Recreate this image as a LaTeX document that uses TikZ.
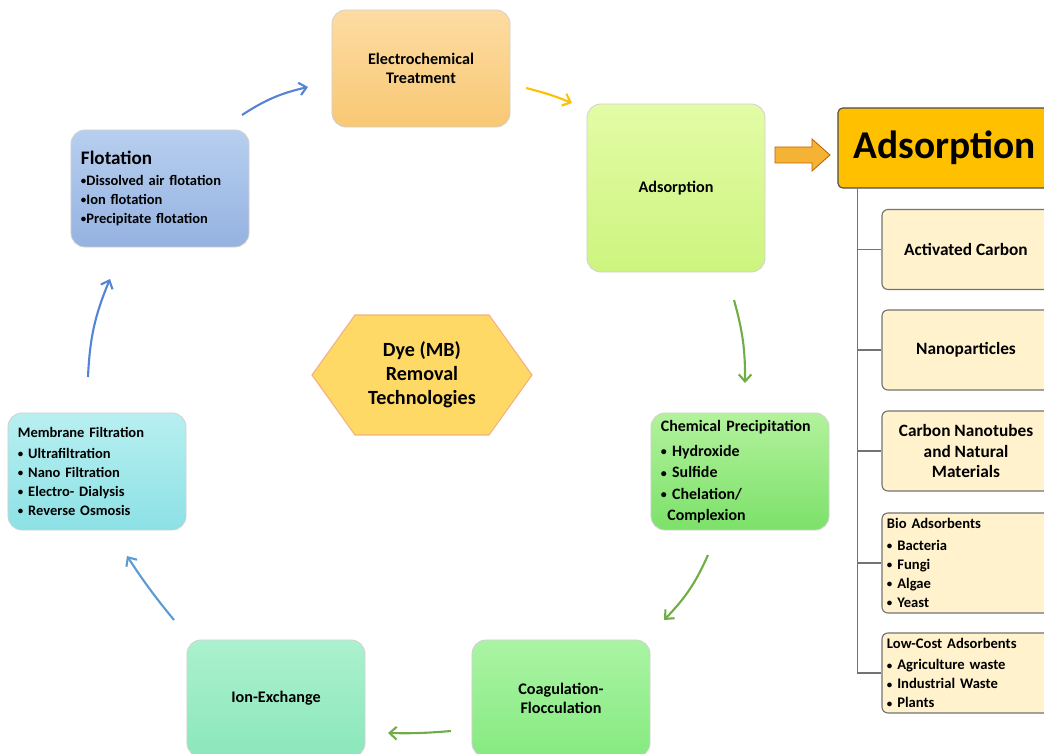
\documentclass[tikz,border=0pt]{standalone}
\usepackage{fontspec}
\setmainfont{Carlito}
\usetikzlibrary{arrows.meta}
\definecolor{elecA}{HTML}{FDDCA2}
\definecolor{elecB}{HTML}{F8C874}
\definecolor{adsA}{HTML}{E3FCA6}
\definecolor{adsB}{HTML}{CDF47F}
\definecolor{flotA}{HTML}{B7CFEF}
\definecolor{flotB}{HTML}{95B2E1}
\definecolor{chemA}{HTML}{B2F29C}
\definecolor{chemB}{HTML}{7CE16A}
\definecolor{coagA}{HTML}{AAF4A4}
\definecolor{coagB}{HTML}{86EA80}
\definecolor{ionA}{HTML}{ABF1CE}
\definecolor{ionB}{HTML}{8BE7BB}
\definecolor{membA}{HTML}{B8EFF1}
\definecolor{membB}{HTML}{8CE1E5}
\definecolor{hexfill}{HTML}{FFD966}
\definecolor{hexborde}{HTML}{F4B183}
\definecolor{cabecera}{HTML}{FFC000}
\definecolor{subfill}{HTML}{FFF2CC}
\definecolor{azul}{HTML}{5584D6}
\definecolor{celeste}{HTML}{5B9BD5}
\definecolor{verde}{HTML}{70AD47}
\definecolor{amarillo}{HTML}{FFC000}
\definecolor{flechafill}{HTML}{F5B335}
\newcommand\bul{\raisebox{0.12ex}{\scalebox{0.75}{•}}}
\tikzset{
	caja/.style={rounded corners=0.35cm, draw=black!18, line width=0.6pt,
		minimum width=4.45cm, minimum height=2.925cm, align=center,
		font=\fontsize{11.5}{14}\selectfont\bfseries},
	lista/.style={caja, align=left, text width=3.95cm, inner xsep=0.25cm,
		font=\fontsize{10.3}{13.6}\selectfont\bfseries},
	sub/.style={rounded corners=0.15cm, draw=black!55, fill=subfill, line width=0.8pt,
		minimum width=4.2cm, minimum height=2cm, align=center,
		font=\fontsize{12.3}{14.5}\selectfont\bfseries},
	sublista/.style={sub, align=left, text width=3.95cm, inner xsep=0.125cm,
		font=\fontsize{10.4}{13.5}\selectfont\bfseries},
	ciclo/.style={line width=1.5pt, -{Straight Barb[length=5pt,width=9pt]}},
	rama/.style={draw=black!55, line width=1pt},
}
\begin{document}
\begin{tikzpicture}[x=0.025cm, y=-0.025cm]
	% Marco
	\useasboundingbox (0,0) rectangle (1044,754);
	% Ciclo de tecnologías
	\node[caja, top color=elecA, bottom color=elecB] (elec) at (421,68.5) {Electrochemical\\Treatment};
	\node[caja, top color=adsA, bottom color=adsB, minimum height=4.2cm] (ads) at (676,188) {Adsorption};
	\node[lista, top color=flotA, bottom color=flotB] (flot) at (160,188.5)
		{{\fontsize{13.6}{15}\selectfont Flotation}\\[1pt]
		\bul Dissolved air flotation\\\bul Ion flotation\\\bul Precipitate flotation};
	\node[lista, top color=chemA, bottom color=chemB, font=\fontsize{11.3}{15}\selectfont\bfseries] (chem) at (740,471.5)
		{Chemical Precipitation\\[3pt]\bul\ Hydroxide\\\bul\ Sulfide\\\bul\ Chelation/\\\hspace*{0.4em}Complexion};
	\node[caja, top color=coagA, bottom color=coagB] (coag) at (561,698.5) {Coagulation-\\Flocculation};
	\node[caja, top color=ionA, bottom color=ionB] (ion) at (276,698.5) {Ion-Exchange};
	\node[lista, top color=membA, bottom color=membB] (memb) at (97,471.5)
		{Membrane Filtration\\[1pt]\bul\ Ultrafiltration\\\bul\ Nano Filtration\\\bul\ Electro- Dialysis\\\bul\ Reverse Osmosis};
	% Hexágono central
	\filldraw[fill=hexfill, draw=hexborde, line width=0.8pt]
		(312,375) -- (355,315) -- (489,315) -- (532,375) -- (489,435) -- (355,435) -- cycle;
	\node[align=center, font=\fontsize{14.3}{17}\selectfont\bfseries] (dye) at (422,375)
		{Dye (MB)\\Removal\\Technologies};
	% Flechas del ciclo
	\coordinate (fe1) at (242,115); \coordinate (fe2) at (308,87);
	\coordinate (ea1) at (526,88);  \coordinate (ea2) at (572,103);
	\coordinate (ac1) at (734,300); \coordinate (ac2) at (745,383);
	\coordinate (cc1) at (708,555); \coordinate (cc2) at (664,620);
	\coordinate (ci1) at (451,731); \coordinate (ci2) at (388,733);
	\coordinate (im1) at (174,620); \coordinate (im2) at (127,556);
	\coordinate (mf1) at (88,377);  \coordinate (mf2) at (110,279);
	\draw[ciclo, azul] (fe1) to[bend left=10] (fe2);
	\draw[ciclo, amarillo] (ea1) to[bend left=4] (ea2);
	\draw[ciclo, verde] (ac1) to[bend left=8] (ac2);
	\draw[ciclo, verde] (cc1) to[bend left=10] (cc2);
	\draw[ciclo, verde] (ci1) to[bend left=3] (ci2);
	\draw[ciclo, celeste] (im1) to[bend left=3] (im2);
	\draw[ciclo, azul] (mf1) to[bend left=10] (mf2);
	% Panel derecho: tipos de adsorbentes
	\filldraw[fill=flechafill, draw=orange!75!black, line width=0.6pt]
		(775,147) -- (812,147) -- (812,139) -- (830,155) -- (812,171) -- (812,163) -- (775,163) -- cycle;
	\node[rounded corners=0.12cm, fill=cabecera, draw=black!70, line width=0.8pt,
		minimum width=5.325cm, minimum height=2cm, font=\fontsize{28}{30}\selectfont\bfseries] (hdr) at (944.5,148) {Adsorption};
	\node[sub] (carbon) at (966,249.5) {Activated Carbon};
	\node[sub] (nano) at (966,350) {Nanoparticles};
	\node[sub, font=\fontsize{12.3}{14.3}\selectfont\bfseries] (cnt) at (966,451) {Carbon Nanotubes\\and Natural\\Materials};
	\node[sublista, minimum height=2.5cm] (bio) at (966,563)
		{Bio Adsorbents\\[2pt]\bul\ Bacteria\\\bul\ Fungi\\\bul\ Algae\\\bul\ Yeast};
	\node[sublista] (low) at (966,673)
		{Low-Cost Adsorbents\\[2pt]\bul\ Agriculture waste\\\bul\ Industrial Waste\\\bul\ Plants};
	\coordinate (tronco) at ([xshift=0.5cm]hdr.south west);
	\foreach \b in {carbon,nano,cnt,bio,low}
		\draw[rama] (tronco) |- (\b.west);
\end{tikzpicture}
\end{document}
